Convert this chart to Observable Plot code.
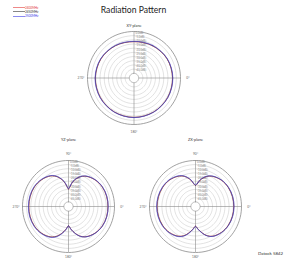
<!DOCTYPE html>
<html><head><meta charset="utf-8">
<script src="https://cdn.jsdelivr.net/npm/d3@7"></script>
<script src="https://cdn.jsdelivr.net/npm/@observablehq/plot@0.6"></script>
<style>
body{margin:0;background:#fff;font-family:Lato,"Open Sans",sans-serif}
#wrap{position:relative;width:289px;height:260px;overflow:hidden;background:#fff}
.abs{position:absolute;margin:0}
#title{left:0;width:267px;top:5px;text-align:center;font-size:8.6px;color:#222;white-space:nowrap}
#caption{left:258px;top:251px;font-size:4.4px;color:#333;white-space:nowrap}
.leg{font-size:3px;white-space:nowrap}
</style></head><body><div id="wrap">
<div id="title" class="abs"></div>
<div id="caption" class="abs"></div>
</div>
<script>
const title = "Radiation Pattern";
const caption = "Datock 5842";
const seriesNames = ["2400MHz", "2450MHz", "2500MHz"];
const seriesColors = ["#e23a3a", "#333333", "#3c3ce6"];
const ringTicks = [0, -5, -10, -15, -20, -25, -30, -35, -40, -45];
const ringLabels = ["0.0dBi", "-5.0dBi", "-10.0dBi", "-15.0dBi", "-20.0dBi", "-25.0dBi", "-30.0dBi", "-35.0dBi", "-40.0dBi", "-45.0dBi"];
const ringMin = -50;
const planeNames = ["XY-plane", "YZ-plane", "ZX-plane"];
const angleLabels = ["0°", "90°", "180°", "270°"];

const xyAngles = [0, 30, 60, 90, 120, 150, 180, 210, 240, 270, 300, 330];
const xyRed   = [-12.2, -11.2, -9.9, -9.5, -9.1, -8.7, -8.5, -8.7, -9.1, -9.4, -10.0, -11.1];
const xyBlack = [-12.0, -11.0, -9.8, -9.4, -9.0, -8.6, -8.4, -8.6, -9.0, -9.3, -9.8, -11.0];
const xyBlue  = [-11.7, -10.7, -9.5, -9.1, -8.8, -8.4, -8.2, -8.4, -8.7, -9.0, -9.5, -10.7];

const lobeAngles = [0, 5, 10, 20, 30, 45, 60, 75, 90, 105, 120, 135, 150, 160, 170, 175, 180, 185, 190, 200, 210, 225, 240, 255, 270, 285, 300, 315, 330, 340, 350, 355];
const yzRed   = [-34.6, -30.9, -25.3, -18.0, -13.5, -10.2, -8.5, -8.0, -8.0, -8.0, -8.5, -10.2, -13.5, -18.0, -25.2, -29.1, -32.4, -29.1, -25.2, -18.0, -13.2, -9.8, -8.2, -7.7, -7.7, -7.8, -8.2, -9.8, -13.0, -17.7, -25.3, -30.9];
const yzBlack = [-34.4, -30.6, -25.0, -17.8, -13.3, -10.0, -8.3, -7.8, -7.8, -7.8, -8.3, -10.0, -13.3, -17.8, -25.0, -28.9, -32.2, -28.9, -25.0, -17.8, -13.0, -9.6, -8.0, -7.5, -7.5, -7.6, -8.0, -9.6, -12.8, -17.5, -25.0, -30.6];
const yzBlue  = [-34.0, -30.2, -24.6, -17.5, -13.0, -9.8, -8.1, -7.6, -7.6, -7.7, -8.2, -9.9, -13.2, -17.7, -24.9, -28.8, -32.1, -28.6, -24.6, -17.2, -12.5, -9.2, -7.6, -7.1, -7.1, -7.2, -7.6, -9.2, -12.4, -17.1, -24.6, -30.2];
const zxRed   = [-30.2, -27.7, -23.2, -17.2, -13.7, -11.0, -9.8, -9.4, -9.4, -9.5, -10.0, -11.4, -14.2, -18.7, -25.7, -29.2, -31.9, -29.2, -25.7, -18.7, -14.2, -11.2, -9.8, -9.3, -9.2, -9.3, -9.7, -10.8, -13.5, -17.0, -23.2, -27.7];
const zxBlack = [-30.0, -27.5, -23.0, -17.0, -13.5, -10.8, -9.6, -9.2, -9.2, -9.3, -9.8, -11.2, -14.0, -18.5, -25.5, -29.0, -31.7, -29.0, -25.5, -18.5, -14.0, -11.0, -9.6, -9.1, -9.0, -9.1, -9.5, -10.6, -13.3, -16.8, -23.0, -27.5];
const zxBlue  = [-29.6, -27.1, -22.6, -16.7, -13.2, -10.6, -9.4, -9.0, -9.0, -9.1, -9.6, -11.0, -13.8, -18.3, -25.3, -28.8, -31.5, -28.6, -25.0, -18.0, -13.6, -10.6, -9.2, -8.7, -8.6, -8.7, -9.1, -10.2, -12.9, -16.4, -22.6, -27.1];

// ---- build tables from the arrays ----
const HOLE = 0.1;
const rf = v => HOLE + (1 - HOLE) * (v - ringMin) / (0 - ringMin);
const rad = a => a * Math.PI / 180;
function table(angles, series) {
  const rows = [];
  series.forEach((vals, i) => angles.forEach((a, j) => rows.push({s: seriesNames[i], a, v: vals[j]})));
  return rows;
}
const planes = [
  {name: planeNames[0], data: table(xyAngles, [xyRed, xyBlack, xyBlue]), cx: 133.5, cy: 77, R: 46.5, top: false, bottomR: 1.17},
  {name: planeNames[1], data: table(lobeAngles, [yzRed, yzBlack, yzBlue]), cx: 68, cy: 206, R: 46, top: true, bottomR: 1.1},
  {name: planeNames[2], data: table(lobeAngles, [zxRed, zxBlack, zxBlue]), cx: 195, cy: 206, R: 46, top: true, bottomR: 1.1}
];

const circleSteps = d3.range(0, 360, 4);
const wrap = document.getElementById("wrap");
document.getElementById("title").textContent = title;
document.getElementById("caption").textContent = caption;

for (const p of planes) {
  const M = 26;
  const size = 2 * (p.R + M);
  const ext = (p.R + M) / p.R;
  const rings = [];
  ringTicks.forEach(t => circleSteps.forEach(a => rings.push({t, a})));
  const hole = circleSteps.map(a => ({a}));
  const lbl = [
    {a: 90, r: 1.16, text: angleLabels[0]},
    {a: 180, r: p.bottomR, text: angleLabels[2]},
    {a: 270, r: 1.14, text: angleLabels[3]}
  ];
  if (p.top) lbl.push({a: 0, r: 1.15, text: angleLabels[1]});
  const nameR = p.top ? 1.46 : 1.13;
  const chart = Plot.plot({
    width: size, height: size, margin: 0,
    x: {domain: [-ext, ext], axis: null},
    y: {domain: [-ext, ext], axis: null},
    style: {fontFamily: "Lato, sans-serif", background: "transparent"},
    marks: [
      Plot.line(rings, {x: d => rf(d.t) * Math.sin(rad(d.a)), y: d => rf(d.t) * Math.cos(rad(d.a)), z: "t", curve: "linear-closed",
        stroke: d => d.t === 0 ? "#8a8a8a" : "#c4c4c4", strokeWidth: d => d.t === 0 ? 0.8 : 0.5}),
      Plot.ruleX([0], {y1: -1, y2: 1, stroke: "#8a8a8a", strokeWidth: 0.6}),
      Plot.ruleY([0], {x1: -1, x2: 1, stroke: "#8a8a8a", strokeWidth: 0.6}),
      Plot.line(hole, {x: d => HOLE * Math.sin(rad(d.a)), y: d => HOLE * Math.cos(rad(d.a)), curve: "linear-closed", fill: "white", stroke: "#8a8a8a", strokeWidth: 0.6}),
      Plot.text(ringTicks, {x: 0, y: t => rf(t) - 0.03, text: (t, i) => ringLabels[i], dx: 1.5, textAnchor: "start", fontSize: 2.8, fill: "#888"}),
      Plot.line(p.data, {x: d => rf(d.v) * Math.sin(rad(d.a)), y: d => rf(d.v) * Math.cos(rad(d.a)), z: "s",
        stroke: d => seriesColors[seriesNames.indexOf(d.s)], strokeWidth: 0.7, strokeOpacity: 0.85, curve: "catmull-rom-closed"}),
      Plot.text(lbl, {x: d => d.r * Math.sin(rad(d.a)), y: d => d.r * Math.cos(rad(d.a)), text: "text", fontSize: 3.2, fill: "#666"}),
      Plot.text([p.name], {x: 0, y: nameR, text: d => d, fontSize: 3.8, fill: "#333"})
    ]
  });
  chart.classList.add("abs");
  chart.style.left = (p.cx - p.R - M) + "px";
  chart.style.top = (p.cy - p.R - M) + "px";
  wrap.appendChild(chart);
}

// legend
seriesNames.forEach((n, i) => {
  const row = document.createElement("div");
  row.className = "abs leg";
  row.style.left = "13px";
  row.style.top = (5.5 + i * 4.2) + "px";
  row.style.color = seriesColors[i];
  row.innerHTML = `<span style="display:inline-block;width:12px;height:0;border-top:0.8px solid ${seriesColors[i]};vertical-align:middle;opacity:.6"></span><span style="vertical-align:middle">${n}</span>`;
  wrap.appendChild(row);
});
</script>
</body></html>
